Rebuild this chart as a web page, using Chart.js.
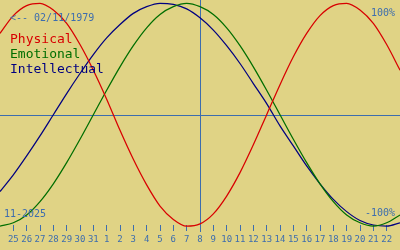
<!DOCTYPE html>
<html><head><meta charset="utf-8">
<script src="https://cdn.jsdelivr.net/npm/chart.js@4"></script>
<style>html,body{margin:0;padding:0;background:#E0D385;}canvas{display:block;}</style>
</head><body>
<canvas id="c" width="400" height="250"></canvas>
<script>
// day offsets from 25 Oct (day 0) ... -1 = 24 Oct, 29 = 23 Nov
const days = [-1,0,1,2,3,4,5,6,7,8,9,10,11,12,13,14,15,16,17,18,19,20,21,22,23,24,25,26,27,28,29];
const tickLabels = ['25','26','27','28','29','30','31','1','2','3','4','5','6','7','8','9','10','11','12','13','14','15','16','17','18','19','20','21','22'];
const physical = [0.73,0.89,0.98,1.00,0.94,0.82,0.63,0.40,0.14,-0.14,-0.40,-0.63,-0.82,-0.94,-1.00,-0.98,-0.89,-0.73,-0.52,-0.27,0.00,0.27,0.52,0.73,0.89,0.98,1.00,0.94,0.82,0.63,0.40];
const emotional = [-1.00,-0.97,-0.90,-0.78,-0.62,-0.43,-0.22,0.00,0.22,0.43,0.62,0.78,0.90,0.97,1.00,0.97,0.90,0.78,0.62,0.43,0.22,0.00,-0.22,-0.43,-0.62,-0.78,-0.90,-0.97,-1.00,-0.97,-0.90];
const intellectual = [-0.69,-0.54,-0.37,-0.19,0.00,0.19,0.37,0.54,0.69,0.81,0.91,0.97,1.00,0.99,0.95,0.87,0.76,0.62,0.46,0.28,0.10,-0.10,-0.28,-0.46,-0.62,-0.76,-0.87,-0.95,-0.99,-1.00,-0.97];
const todayIndex = 14;
const birthText = '<-- 02/11/1979';
const monthText = '11-2025';
const seriesNames = ['Physical','Emotional','Intellectual'];
const colors = ['#D80000','#006E00','#000080'];
const blue = '#3D6DAE';

const pts = arr => arr.map((v,i)=>({x:days[i], y:v}));

const overlay = {
  id:'overlay',
  beforeDatasetsDraw(chart){
    const {ctx, scales:{x,y}} = chart;
    ctx.save();
    ctx.strokeStyle = blue; ctx.lineWidth = 1;
    const y0 = Math.round(y.getPixelForValue(0)) + 0.5;
    ctx.beginPath(); ctx.moveTo(0,y0); ctx.lineTo(400,y0); ctx.stroke();
    const xt = Math.round(x.getPixelForValue(todayIndex)) + 0.5;
    ctx.beginPath(); ctx.moveTo(xt,0); ctx.lineTo(xt,232); ctx.stroke();
    ctx.restore();
  },
  afterDatasetsDraw(chart){
    const ctx = chart.ctx;
    ctx.save();
    ctx.textBaseline = 'alphabetic';
    ctx.font = '10px "DejaVu Sans Mono"';
    ctx.fillStyle = blue;
    ctx.textAlign = 'left';
    ctx.fillText(birthText, 10, 21);
    ctx.fillText(monthText, 4, 217);
    ctx.textAlign = 'right';
    ctx.fillText('100%', 395, 16);
    ctx.fillText('-100%', 395, 216);
    ctx.textAlign = 'left';
    ctx.font = '13px "DejaVu Sans Mono"';
    seriesNames.forEach((n,i)=>{ ctx.fillStyle = colors[i]; ctx.fillText(n, 10, 43 + i*15); });
    ctx.restore();
  }
};

new Chart(document.getElementById('c'), {
  type:'line',
  data:{ datasets:[
    {data:pts(physical), borderColor:colors[0]},
    {data:pts(emotional), borderColor:colors[1]},
    {data:pts(intellectual), borderColor:colors[2]}
  ].map(d=>Object.assign(d,{borderWidth:1.25, pointRadius:0, tension:0.4, cubicInterpolationMode:'monotone', fill:false, clip:false}))},
  options:{
    responsive:false, animation:false, devicePixelRatio:1,
    layout:{padding:0},
    plugins:{legend:{display:false}, tooltip:{enabled:false}},
    scales:{
      x:{type:'linear', min:-1, max:29, offset:false,
        afterFit:s=>{s.height=25;},
        border:{display:false},
        grid:{drawOnChartArea:false, color:blue, tickLength:6, tickWidth:1},
        afterBuildTicks:s=>{ s.ticks = tickLabels.map((t,i)=>({value:i})); },
        ticks:{autoSkip:false, maxRotation:0, padding:3, color:blue, font:{family:'DejaVu Sans Mono', size:9},
          callback:(v)=>tickLabels[v]}
      },
      y:{display:false, min:-0.99, max:1.03}
    }
  },
  plugins:[overlay]
});
</script>
</body></html>
